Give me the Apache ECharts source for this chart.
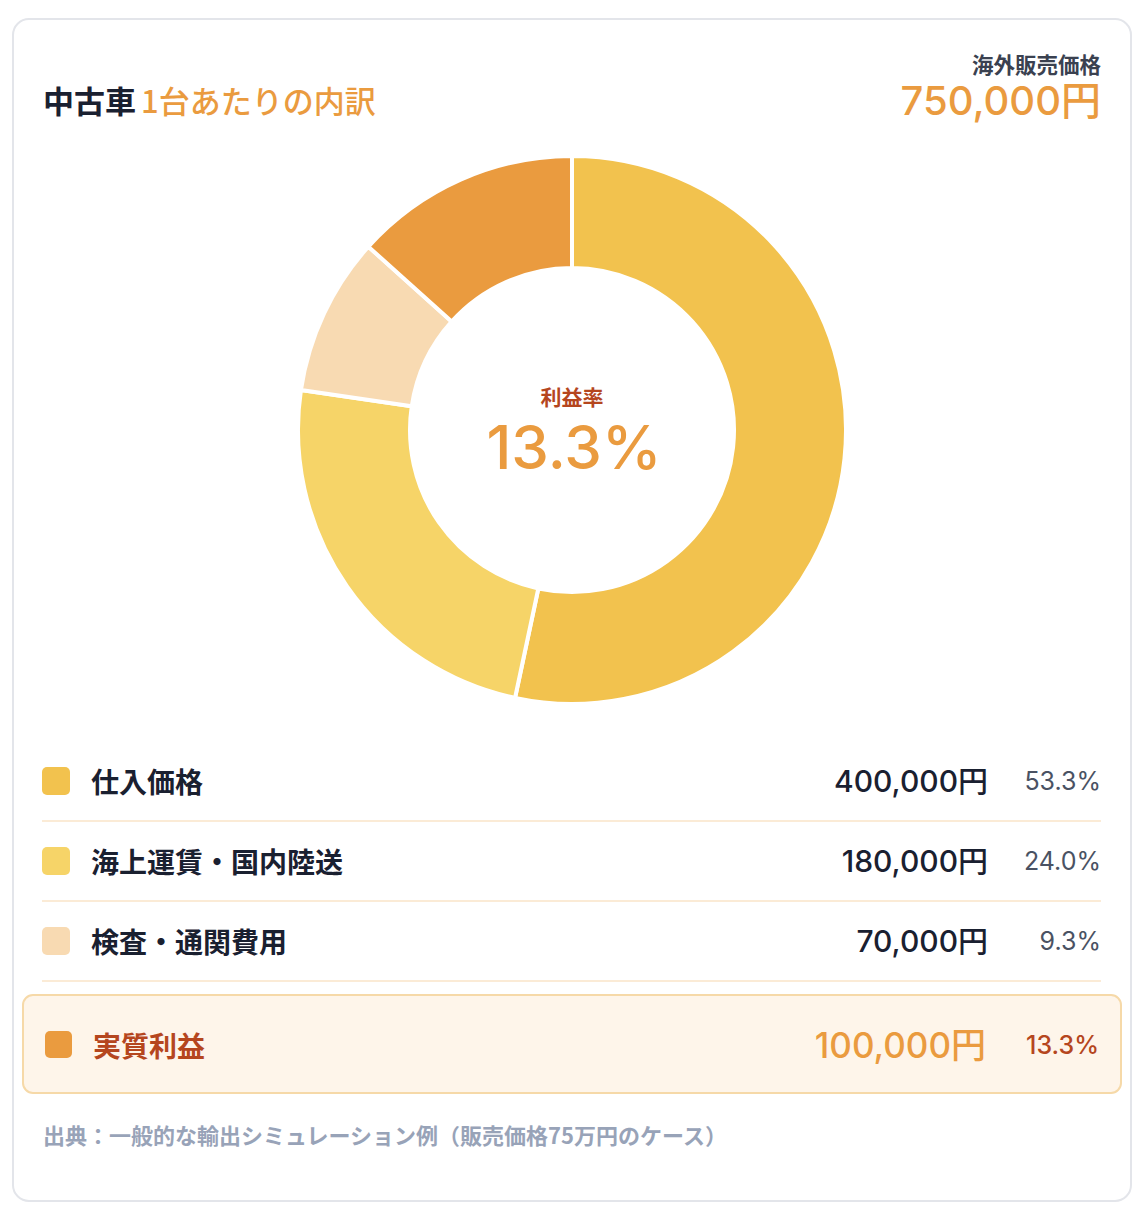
<!DOCTYPE html>
<html><head><meta charset="utf-8">
<script src="https://cdn.jsdelivr.net/npm/echarts@6/dist/echarts.min.js"></script>
<style>
html,body{margin:0;padding:0;background:#fff;}
#c{width:1146px;height:1230px;}
</style></head>
<body><div id="c"></div>
<script>
const categories = ['仕入価格', '海上運賃・国内陸送', '検査・通関費用', '実質利益'];
const values = [400000, 180000, 70000, 100000];
const colors = ['#F2C24E', '#F6D468', '#F8DAB2', '#EA9B3F'];
const salePrice = 750000;
const titleDark = '中古車';
const titleAccent = '1台あたりの内訳';
const priceLabel = '海外販売価格';
const centerLabel = '利益率';
const footnote = '出典：一般的な輸出シミュレーション例（販売価格75万円のケース）';

const FONT = '"Noto Sans CJK JP", "Noto Sans", sans-serif';
const NUM = 'Inter, "Noto Sans CJK JP", sans-serif';
const fmt = v => v.toLocaleString('en-US') + '円';
const total = values.reduce((a, b) => a + b, 0);
const pct = v => (v / total * 100).toFixed(1) + '%';

const chart = echarts.init(document.getElementById('c'), null, {renderer: 'svg'});

const g = [];
// card
g.push({type: 'rect', shape: {x: 13, y: 19, width: 1118, height: 1182, r: 16},
  style: {fill: '#fff', stroke: '#E3E5EA', lineWidth: 2}, z: -10});
// title
g.push({type: 'text', x: 43, y: 99, style: {text: titleDark, font: 'bold 31px ' + FONT, fill: '#1A2030', verticalAlign: 'middle'}});
g.push({type: 'text', x: 141, y: 99, style: {text: titleAccent, font: '500 31px ' + FONT, fill: '#EA9B3F', verticalAlign: 'middle'}});
g.push({type: 'text', x: 1101, y: 63, style: {text: priceLabel, font: 'bold 21.5px ' + FONT, fill: '#3A4150', align: 'right', verticalAlign: 'middle'}});
g.push({type: 'text', x: 1101, y: 100, style: {text: fmt(salePrice), font: '500 40px ' + NUM, fill: '#EA9B3F', align: 'right', verticalAlign: 'middle'}});
// center text
const profitIdx = values.length - 1;
g.push({type: 'text', x: 572, y: 396, style: {text: centerLabel, font: 'bold 21px ' + FONT, fill: '#B5461E', align: 'center', verticalAlign: 'middle'}});
g.push({type: 'text', x: 574, y: 447, style: {text: pct(values[profitIdx]), font: '500 60px ' + NUM, fill: '#EA9B3F', align: 'center', verticalAlign: 'middle'}});

// legend rows
const rowY = [781, 861, 941];
for (let i = 0; i < 3; i++) {
  const y = rowY[i];
  g.push({type: 'rect', shape: {x: 42, y: y - 14, width: 28, height: 28, r: 5}, style: {fill: colors[i]}});
  g.push({type: 'text', x: 91, y: y, style: {text: categories[i], font: 'bold 28px ' + FONT, fill: '#1A2030', verticalAlign: 'middle'}});
  g.push({type: 'text', x: 988, y: y, style: {text: fmt(values[i]), font: '500 30px ' + NUM, fill: '#1A2030', align: 'right', verticalAlign: 'middle'}});
  g.push({type: 'text', x: 1101, y: y, style: {text: pct(values[i]), font: '400 25px ' + NUM, fill: '#4A5263', align: 'right', verticalAlign: 'middle'}});
  g.push({type: 'rect', shape: {x: 42, y: y + 39, width: 1059, height: 2}, style: {fill: '#FBEBD6'}});
}
// profit box
g.push({type: 'rect', shape: {x: 23, y: 995, width: 1098, height: 98, r: 10}, style: {fill: '#FEF5EA', stroke: '#F6D9A8', lineWidth: 2}});
g.push({type: 'rect', shape: {x: 45, y: 1031, width: 27, height: 27, r: 5}, style: {fill: colors[profitIdx]}});
g.push({type: 'text', x: 93, y: 1045, style: {text: categories[profitIdx], font: 'bold 28px ' + FONT, fill: '#B5461E', verticalAlign: 'middle'}});
g.push({type: 'text', x: 986, y: 1045, style: {text: fmt(values[profitIdx]), font: '500 35px ' + NUM, fill: '#EA9B3F', align: 'right', verticalAlign: 'middle'}});
g.push({type: 'text', x: 1099, y: 1045, style: {text: pct(values[profitIdx]), font: '500 25px ' + NUM, fill: '#B5461E', align: 'right', verticalAlign: 'middle'}});
// footnote
g.push({type: 'text', x: 43, y: 1134, style: {text: footnote, font: 'bold 22px ' + FONT, fill: '#98A3B8', verticalAlign: 'middle'}});

chart.setOption({
  animation: false,
  graphic: {elements: g},
  series: [{
    type: 'pie',
    center: [572, 430],
    radius: [162, 274],
    startAngle: 90,
    clockwise: true,
    label: {show: false},
    labelLine: {show: false},
    itemStyle: {borderColor: '#fff', borderWidth: 4},
    emphasis: {disabled: true},
    z: 5,
    data: categories.map((c, i) => ({name: c, value: values[i], itemStyle: {color: colors[i]}}))
  }]
});
</script></body></html>
